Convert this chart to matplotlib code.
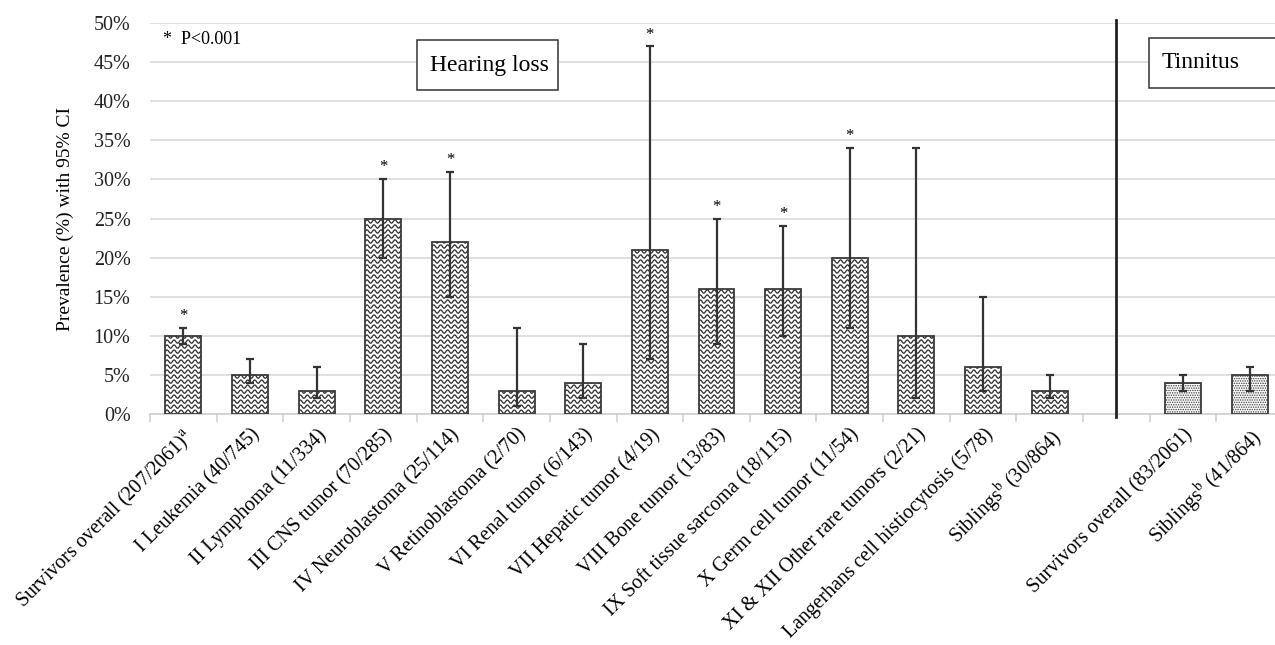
import numpy as np
import matplotlib.pyplot as plt
from matplotlib.collections import LineCollection
from matplotlib.patches import Rectangle

plt.rcParams['font.family'] = ['Liberation Serif', 'DejaVu Serif']
plt.rcParams['mathtext.fontset'] = 'stix'

# hearing loss (slots 0-13), tinnitus (slots 15-16)
hearing_labels = [
    r"Survivors overall (207/2061)$^{\rm a}$",
    "I Leukemia (40/745)",
    "II Lymphoma (11/334)",
    "III CNS tumor (70/285)",
    "IV Neuroblastoma (25/114)",
    "V Retinoblastoma (2/70)",
    "VI Renal tumor (6/143)",
    "VII Hepatic tumor (4/19)",
    "VIII Bone tumor (13/83)",
    "IX Soft tissue sarcoma (18/115)",
    "X Germ cell tumor (11/54)",
    "XI & XII Other rare tumors (2/21)",
    "Langerhans cell histiocytosis (5/78)",
    r"Siblings$^{\rm b}$ (30/864)",
]
hearing_val = [10, 5, 3, 25, 22, 3, 4, 21, 16, 16, 20, 10, 6, 3]
hearing_lo = [9, 4, 2, 20, 15, 1, 2, 7, 9, 10, 11, 2, 3, 2]
hearing_hi = [11, 7, 6, 30, 31, 11, 9, 47, 25, 24, 34, 34, 15, 5]
hearing_sig = [1, 0, 0, 1, 1, 0, 0, 1, 1, 1, 1, 0, 0, 0]

tinnitus_labels = [
    "Survivors overall (83/2061)",
    r"Siblings$^{\rm b}$ (41/864)",
]
tinnitus_val = [4, 5]
tinnitus_lo = [3, 3]
tinnitus_hi = [5, 6]

fig = plt.figure(figsize=(12.75, 6.45), dpi=100)
ax = fig.add_axes([150 / 1275, 231 / 645, 1133 / 1275, 391 / 645])

xh = np.arange(len(hearing_val))
xt = np.arange(len(tinnitus_val)) + len(hearing_val) + 1
width = 0.54
edge = '#3a3a3a'

# hearing bars: white fill, wavy texture clipped to each bar, then outline
fills = ax.bar(xh, hearing_val, width, color='white', edgecolor='none', zorder=2)
for p in fills:
    x0, w, h = p.get_x(), p.get_width(), p.get_height()
    xs = np.linspace(x0, x0 + w, 80)
    segs = []
    for row in np.arange(0.3, h + 0.7, 0.64):
        ys = row + 0.21 * np.sin(2 * np.pi * (xs - x0) / 0.105)
        segs.append(np.column_stack([xs, ys]))
    lc = LineCollection(segs, colors='#2a2a2a', linewidths=0.9, zorder=2.5)
    ax.add_collection(lc)
    lc.set_clip_path(p)
ax.bar(xh, hearing_val, width, fill=False, edgecolor=edge, linewidth=1.3, zorder=3)

# tinnitus bars: dotted
plt.rcParams['hatch.linewidth'] = 0.7
ax.bar(xt, tinnitus_val, width, color='white', edgecolor=edge, hatch='.......',
       linewidth=1.3, zorder=3)

hv = np.array(hearing_val)
ax.errorbar(xh, hv, yerr=[hv - np.array(hearing_lo), np.array(hearing_hi) - hv],
            fmt='none', ecolor='#333333', elinewidth=1.6, capsize=3, capthick=1.6,
            zorder=4)
tv = np.array(tinnitus_val)
ax.errorbar(xt, tv, yerr=[tv - np.array(tinnitus_lo), np.array(tinnitus_hi) - tv],
            fmt='none', ecolor='#333333', elinewidth=1.6, capsize=3, capthick=1.6,
            zorder=4)

for x, hi, s in zip(xh, hearing_hi, hearing_sig):
    if s:
        ax.text(x, hi + 0.5, '*', ha='center', va='bottom', fontsize=12, zorder=5)

# axes styling
ax.set_xlim(-0.5, 16.5)
ax.set_ylim(0, 50)
ax.set_yticks(np.arange(0, 51, 5))
ax.set_yticklabels([f"{v}%" for v in range(0, 51, 5)])
ax.grid(axis='y', color='#d9d9d9', linewidth=1.2, zorder=0)
ax.set_axisbelow(True)
for side in ['top', 'right', 'left']:
    ax.spines[side].set_visible(False)
ax.spines['bottom'].set_color('#d0d0d0')
ax.spines['bottom'].set_linewidth(1.2)
ax.tick_params(axis='y', length=0, pad=14, labelsize=14.5, labelcolor='#222222')

ax.set_xticks(list(xh) + list(xt))
ax.set_xticklabels(hearing_labels + tinnitus_labels, rotation=45, ha='right',
                   rotation_mode='anchor', fontsize=14.5)
ax.tick_params(axis='x', which='major', length=0, pad=8)
ax.set_xticks(np.arange(-0.5, 16.6, 1), minor=True)
ax.tick_params(axis='x', which='minor', length=6, color='#d0d0d0', width=1.2)

ax.set_ylabel("Prevalence (%) with 95% CI", fontsize=14, labelpad=14)

# divider between hearing loss and tinnitus
ax.axvline(14, ymin=-0.008, ymax=1.008, color='#222222', linewidth=2,
           clip_on=False, zorder=5)

ax.text(13 / 1133, 1 - 17 / 391, "*  P<0.001", transform=ax.transAxes,
        fontsize=13, ha='left', va='center')


def label_box(x0, x1, y0, y1, text):
    # box given in pixel offsets from the axes' top-left corner
    bx = x0 / 1133
    by = 1 - y1 / 391
    ax.add_patch(Rectangle((bx, by), (x1 - x0) / 1133, (y1 - y0) / 391,
                           transform=ax.transAxes, facecolor='white',
                           edgecolor='#333333', linewidth=1.1, zorder=6,
                           clip_on=False))
    ax.text(bx + 13 / 1133, by + (y1 - y0) / 391 / 2, text,
            transform=ax.transAxes, fontsize=17, ha='left', va='center',
            zorder=7)


label_box(267, 408, 17, 67, "Hearing loss")
label_box(999, 1140, 15, 65, "Tinnitus")

fig.savefig('out.png', dpi=100)
